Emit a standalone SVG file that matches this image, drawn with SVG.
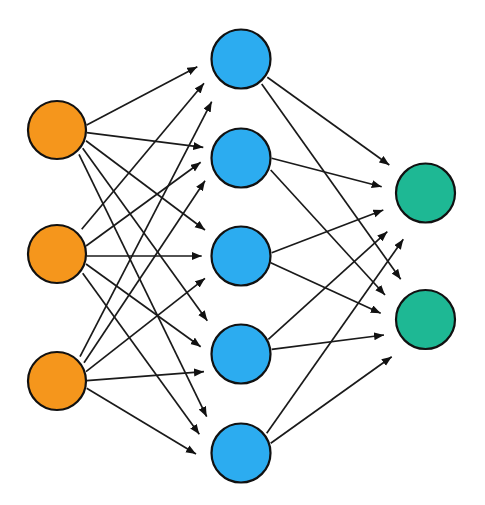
<svg xmlns="http://www.w3.org/2000/svg" width="485" height="505" viewBox="0 0 485 505">
<style>
.edge{stroke:#1a1a1a;stroke-width:1.7;fill:none;marker-end:url(#ah)}
.node{stroke:#111;stroke-width:2.2}
.in{fill:#F5961C}
.hid{fill:#2CACF0}
.out{fill:#1EB894}
</style>
<defs>
<marker id="ah" markerUnits="userSpaceOnUse" markerWidth="11" markerHeight="9" refX="10" refY="4" orient="auto">
<path d="M0,0 L10,4 L0,8 z" fill="#111"/>
</marker>
</defs>
<rect width="485" height="505" fill="#fff"/>
<g id="connectors">
<line class="edge" x1="86.7" y1="125" x2="197.3" y2="66.7"/>
<line class="edge" x1="86.7" y1="132.7" x2="203.3" y2="147.3"/>
<line class="edge" x1="86" y1="140.7" x2="205" y2="230"/>
<line class="edge" x1="82.7" y1="148.3" x2="207.3" y2="320.7"/>
<line class="edge" x1="79" y1="154.3" x2="206.7" y2="416.7"/>
<line class="edge" x1="81.7" y1="229.3" x2="204" y2="83.3"/>
<line class="edge" x1="86" y1="246" x2="200.7" y2="162.3"/>
<line class="edge" x1="86.7" y1="256" x2="201.7" y2="256"/>
<line class="edge" x1="86" y1="264" x2="200.7" y2="346.7"/>
<line class="edge" x1="82.7" y1="273.3" x2="199.3" y2="434.3"/>
<line class="edge" x1="80" y1="356.7" x2="211.7" y2="101.7"/>
<line class="edge" x1="84" y1="362.7" x2="205" y2="180.7"/>
<line class="edge" x1="86" y1="371.7" x2="205" y2="278.3"/>
<line class="edge" x1="86.7" y1="380.7" x2="204" y2="371.7"/>
<line class="edge" x1="86.7" y1="388.3" x2="196" y2="454"/>
<line class="edge" x1="267.3" y1="77.3" x2="389.3" y2="165"/>
<line class="edge" x1="261.7" y1="84" x2="400.7" y2="279.3"/>
<line class="edge" x1="271.7" y1="158.3" x2="381.7" y2="186.7"/>
<line class="edge" x1="270.7" y1="170" x2="385" y2="295"/>
<line class="edge" x1="271.7" y1="252.7" x2="383.3" y2="210"/>
<line class="edge" x1="270.7" y1="262.7" x2="380.7" y2="313.3"/>
<line class="edge" x1="268.3" y1="339.3" x2="387.3" y2="231.7"/>
<line class="edge" x1="271.7" y1="349.3" x2="384" y2="335"/>
<line class="edge" x1="266.7" y1="433.3" x2="403.3" y2="239.3"/>
<line class="edge" x1="270.7" y1="443.3" x2="391.7" y2="356.7"/>
</g>
<g id="in1"><circle class="node in" cx="57" cy="130" r="29"/></g>
<g id="in2"><circle class="node in" cx="57" cy="254" r="29"/></g>
<g id="in3"><circle class="node in" cx="57" cy="381" r="29"/></g>
<g id="h1"><circle class="node hid" cx="241" cy="59" r="29.5"/></g>
<g id="h2"><circle class="node hid" cx="241" cy="158" r="29.5"/></g>
<g id="h3"><circle class="node hid" cx="241" cy="256" r="29.5"/></g>
<g id="h4"><circle class="node hid" cx="241" cy="354" r="29.5"/></g>
<g id="h5"><circle class="node hid" cx="241" cy="453" r="29.5"/></g>
<g id="o1"><circle class="node out" cx="425.5" cy="193" r="29.5"/></g>
<g id="o2"><circle class="node out" cx="425.5" cy="319.5" r="29.5"/></g>
</svg>
